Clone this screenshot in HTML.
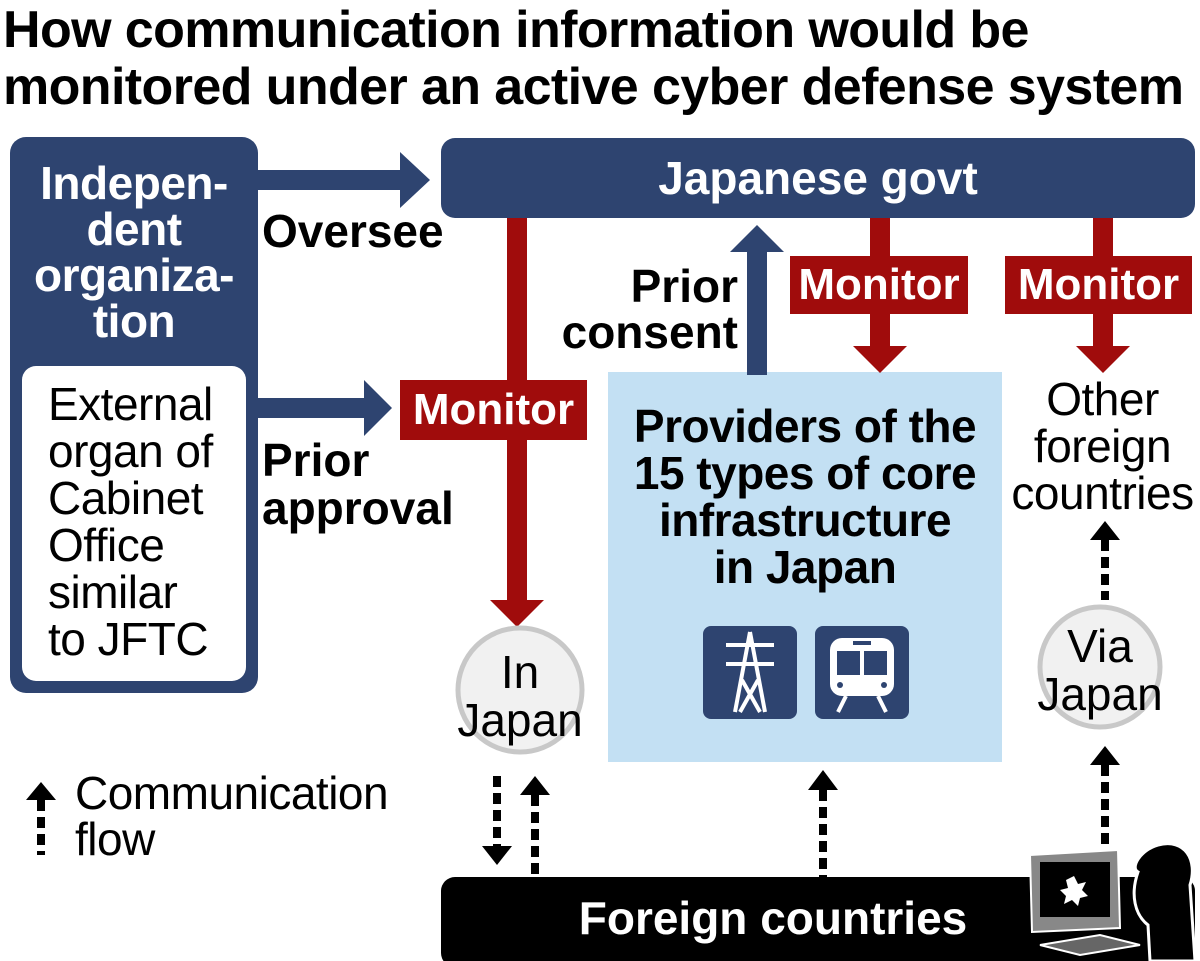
<!DOCTYPE html>
<html><head><meta charset="utf-8"><style>
body{margin:0;width:1200px;height:961px;background:#fff;position:relative;overflow:hidden;font-family:"Liberation Sans",sans-serif}
.a{position:absolute;white-space:nowrap}
.t{font-weight:bold;font-size:52px;left:3px;line-height:57px;letter-spacing:-0.6px}
.b{font-weight:bold}
.c{text-align:center}
</style></head><body>
<div class="a t" style="top:2px">How communication information would be</div>
<div class="a t" style="top:59px">monitored under an active cyber defense system</div>

<div class="a" style="left:10px;top:137px;width:248px;height:556px;background:#2e4470;border-radius:16px"></div>
<div class="a b c" style="left:10px;top:160px;width:248px;color:#fff;font-size:46px;line-height:46px;letter-spacing:-0.5px">Indepen-<br>dent<br>organiza-<br>tion</div>
<div class="a" style="left:22px;top:366px;width:224px;height:315px;background:#fff;border-radius:14px"></div>
<div class="a" style="left:48px;top:381px;font-size:46px;line-height:47px;letter-spacing:-0.5px">External<br>organ of<br>Cabinet<br>Office<br>similar<br>to JFTC</div>

<div class="a b c" style="left:441px;top:138px;width:754px;height:80px;background:#2e4470;border-radius:14px;color:#fff;font-size:46px;line-height:80px">Japanese govt</div>

<div class="a" style="left:608px;top:372px;width:394px;height:390px;background:#c3e0f3"></div>
<div class="a b c" style="left:608px;top:403px;width:394px;font-size:46px;line-height:47px;letter-spacing:-0.5px">Providers of the<br>15 types of core<br>infrastructure<br>in Japan</div>

<svg class="a" style="left:0;top:0" width="1200" height="961">
<rect x="258" y="170" width="146" height="20" fill="#2e4470"/><polygon points="400,152 430,180 400,208" fill="#2e4470"/>
<rect x="258" y="398" width="110" height="20" fill="#2e4470"/><polygon points="364,380 392,408 364,436" fill="#2e4470"/>
<rect x="747" y="250" width="20" height="125" fill="#2e4470"/><polygon points="730,252 757,225 784,252" fill="#2e4470"/>
<rect x="507" y="218" width="20" height="384" fill="#a00c0c"/><polygon points="490,600 517,627 544,600" fill="#a00c0c"/>
<rect x="870" y="218" width="20" height="130" fill="#a00c0c"/><polygon points="853,346 880,373 907,346" fill="#a00c0c"/>
<rect x="1093" y="218" width="20" height="130" fill="#a00c0c"/><polygon points="1076,346 1103,373 1130,346" fill="#a00c0c"/>
<rect x="703" y="626" width="94" height="93" rx="8" fill="#2e4470"/>
<rect x="815" y="626" width="94" height="93" rx="8" fill="#2e4470"/>
<g stroke="#fff" stroke-width="4" fill="none"><path d="M750 632 L735 712 M750 632 L765 712 M726 645 H774 M726 664 H774 M742 680 L760 712 M758 680 L740 712"/></g>
<rect x="830" y="638" width="64" height="58" rx="12" fill="#fff"/><rect x="837" y="651" width="23" height="24" fill="#2e4470"/><rect x="864" y="651" width="23" height="24" fill="#2e4470"/><rect x="853" y="641" width="18" height="4" fill="#2e4470"/><circle cx="840" cy="685" r="3" fill="#2e4470"/><circle cx="884" cy="685" r="3" fill="#2e4470"/>
<path d="M838 712 L846 696 M886 712 L878 696" stroke="#fff" stroke-width="4"/>
<circle cx="520" cy="690" r="62" fill="#f1f1f1" stroke="#c8c8c8" stroke-width="5"/>
<circle cx="1100" cy="667" r="60" fill="#f1f1f1" stroke="#c8c8c8" stroke-width="5"/>
<g stroke="#000" stroke-width="8" stroke-dasharray="11,6">
<line x1="497" y1="776" x2="497" y2="848"/><line x1="535" y1="795" x2="535" y2="877"/>
<line x1="823" y1="790" x2="823" y2="877"/><line x1="1105" y1="765" x2="1105" y2="850"/>
<line x1="1105" y1="540" x2="1105" y2="600"/><line x1="41" y1="800" x2="41" y2="855"/>
</g>
<g fill="#000">
<polygon points="482,846 497,865 512,846"/><polygon points="520,795 535,776 550,795"/>
<polygon points="808,790 823,770 838,790"/><polygon points="1090,765 1105,746 1120,765"/>
<polygon points="1090,540 1105,521 1120,540"/><polygon points="26,800 41,782 56,800"/>
</g>
<rect x="441" y="877" width="754" height="90" rx="14" fill="#000"/>
<polygon points="1030,855 1118,850 1120,928 1032,932" fill="#888" stroke="#fff" stroke-width="2"/>
<rect x="1040" y="862" width="70" height="55" fill="#000"/>
<polygon points="1074,876 1078,884 1086,882 1082,890 1088,896 1080,898 1078,906 1072,900 1064,904 1066,896 1060,890 1068,888 1066,880" fill="#fff"/>
<polygon points="1040,945 1100,935 1140,945 1080,955" fill="#666" stroke="#fff" stroke-width="2"/>
<path d="M1158 845 C1185 838 1198 860 1190 885 L1195 961 L1150 961 L1148 925 C1135 915 1130 895 1138 872 C1130 868 1140 850 1158 845 Z" fill="#000" stroke="#fff" stroke-width="3"/>
</svg>

<div class="a b c" style="left:400px;top:380px;width:187px;height:60px;background:#a00c0c;color:#fff;font-size:44px;line-height:60px">Monitor</div>
<div class="a b c" style="left:790px;top:256px;width:178px;height:58px;background:#a00c0c;color:#fff;font-size:44px;line-height:58px">Monitor</div>
<div class="a b c" style="left:1005px;top:256px;width:187px;height:58px;background:#a00c0c;color:#fff;font-size:44px;line-height:58px">Monitor</div>

<div class="a b" style="left:262px;top:208px;font-size:46px;line-height:46px">Oversee</div>
<div class="a b" style="left:262px;top:436px;font-size:46px;line-height:48px">Prior<br>approval</div>
<div class="a b" style="left:538px;top:263px;width:200px;text-align:right;font-size:46px;line-height:46px">Prior<br>consent</div>
<div class="a c" style="left:1000px;top:376px;width:205px;font-size:46px;line-height:47px;letter-spacing:-0.5px">Other<br>foreign<br>countries</div>
<div class="a c" style="left:440px;top:648px;width:160px;font-size:46px;line-height:48px">In<br>Japan</div>
<div class="a c" style="left:1020px;top:622px;width:160px;font-size:46px;line-height:48px">Via<br>Japan</div>
<div class="a" style="left:75px;top:770px;font-size:46px;line-height:46px;letter-spacing:-0.5px">Communication<br>flow</div>
<div class="a b c" style="left:441px;top:893px;width:664px;color:#fff;font-size:46px;line-height:50px">Foreign countries</div>
</body></html>
